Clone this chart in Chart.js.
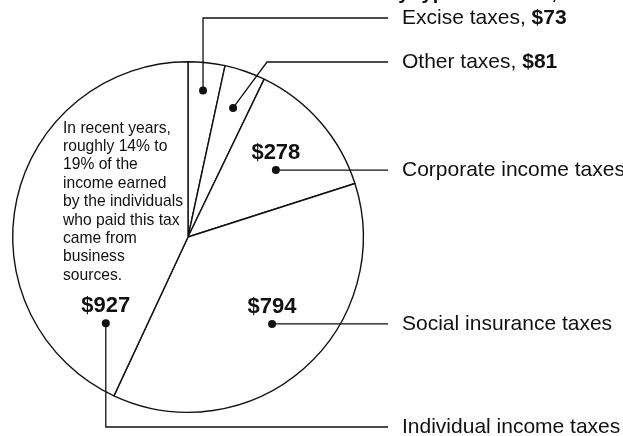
<!DOCTYPE html>
<html>
<head>
<meta charset="utf-8">
<script src="https://cdn.jsdelivr.net/npm/chart.js@4/dist/chart.umd.min.js"></script>
<style>
  html, body { margin: 0; padding: 0; background: #fff; }
  #wrap { width: 623px; height: 436px; position: relative; }
</style>
</head>
<body>
<div id="wrap"><canvas id="pieChart" width="623" height="436"></canvas></div>
<script>
// Data (billions of dollars), clockwise from the top
let categories = ["Excise taxes", "Other taxes", "Corporate income taxes", "Social insurance taxes", "Individual income taxes"];
let values = [73, 81, 278, 794, 927];
let valueLabels = ["$73", "$81", "$278", "$794", "$927"];
let titleText = "Federal Revenues by type of source, 2005";
let noteLines = ["In recent years,", "roughly 14% to", "19% of the", "income earned", "by the individuals", "who paid this tax", "came from", "business", "sources."];

// where the dot sits inside each slice: share of the slice angle, share of the radius
let dotAngle = [0.48, 0.52, 0.58, 0.48, 0.12];
let dotRadius = [0.84, 0.78, 0.63, 0.69, 0.68];
// how the leader line runs to its label row
let routes = ["up", "diag", "flat", "flat", "down"];
let rowY = [18, 62, null, null, 427];
let inlineValue = [true, true, false, false, false];

const FONT = '"Liberation Sans", Arial, Helvetica, sans-serif';
const INK = "#111";

const calloutPlugin = {
    id: "callouts",
    afterDraw(chart) {
        let ctx = chart.ctx;
        let arcs = chart.getDatasetMeta(0).data;
        let lineEnd = 388, textX = 402;

        ctx.save();
        ctx.strokeStyle = INK;
        ctx.fillStyle = INK;
        ctx.lineWidth = 1.3;

        arcs.forEach((arc, i) => {
            let p = arc.getProps(["x", "y", "startAngle", "endAngle", "outerRadius"], true);
            let a = p.startAngle + dotAngle[i] * (p.endAngle - p.startAngle);
            let r = dotRadius[i] * p.outerRadius;
            let dx = p.x + Math.cos(a) * r;
            let dy = p.y + Math.sin(a) * r;

            // leader line
            let ly = rowY[i] === null ? dy : rowY[i];
            ctx.beginPath();
            ctx.moveTo(dx, dy);
            if (routes[i] === "up" || routes[i] === "down") {
                ctx.lineTo(dx, ly);
            } else if (routes[i] === "diag") {
                ctx.lineTo(267, ly);
            }
            ctx.lineTo(lineEnd, ly);
            ctx.stroke();

            // dot
            ctx.beginPath();
            ctx.arc(dx, dy, 4, 0, Math.PI * 2);
            ctx.fill();

            // label on the right
            ctx.textBaseline = "middle";
            ctx.textAlign = "left";
            ctx.font = "21px " + FONT;
            if (inlineValue[i]) {
                let first = categories[i] + ", ";
                ctx.fillText(first, textX, ly);
                let w = ctx.measureText(first).width;
                ctx.font = "bold 21px " + FONT;
                ctx.fillText(valueLabels[i], textX + w, ly);
            } else {
                ctx.fillText(categories[i], textX, ly);
                // value above the dot
                ctx.font = "bold 22px " + FONT;
                ctx.textAlign = "center";
                ctx.textBaseline = "alphabetic";
                ctx.fillText(valueLabels[i], dx, dy - 11);
            }
        });

        // note in the individual income slice, slightly narrow type
        ctx.save();
        ctx.translate(63, 0);
        ctx.scale(0.92, 1);
        ctx.font = "17px " + FONT;
        ctx.textAlign = "left";
        ctx.textBaseline = "middle";
        noteLines.forEach((line, k) => {
            ctx.fillText(line, 0, 128 + k * 18.4);
        });
        ctx.restore();

        // title, mostly cut off by the top edge
        ctx.font = "bold 20px " + FONT;
        ctx.textBaseline = "alphabetic";
        let split = titleText.indexOf("by");
        ctx.textAlign = "right";
        ctx.fillText(titleText.slice(0, split), 386, -1);
        ctx.textAlign = "left";
        ctx.fillText(titleText.slice(split), 386, -1);

        ctx.restore();
    }
};

new Chart(document.getElementById("pieChart").getContext("2d"), {
    type: "pie",
    data: {
        labels: categories,
        datasets: [{
            data: values,
            backgroundColor: "#fff",
            borderColor: INK,
            borderWidth: 1.4
        }]
    },
    options: {
        responsive: false,
        animation: false,
        layout: { padding: { left: 12, top: 61, right: 259, bottom: 23 } },
        plugins: {
            legend: { display: false },
            tooltip: { enabled: false },
            title: { display: false }
        }
    },
    plugins: [calloutPlugin]
});
</script>
</body>
</html>
